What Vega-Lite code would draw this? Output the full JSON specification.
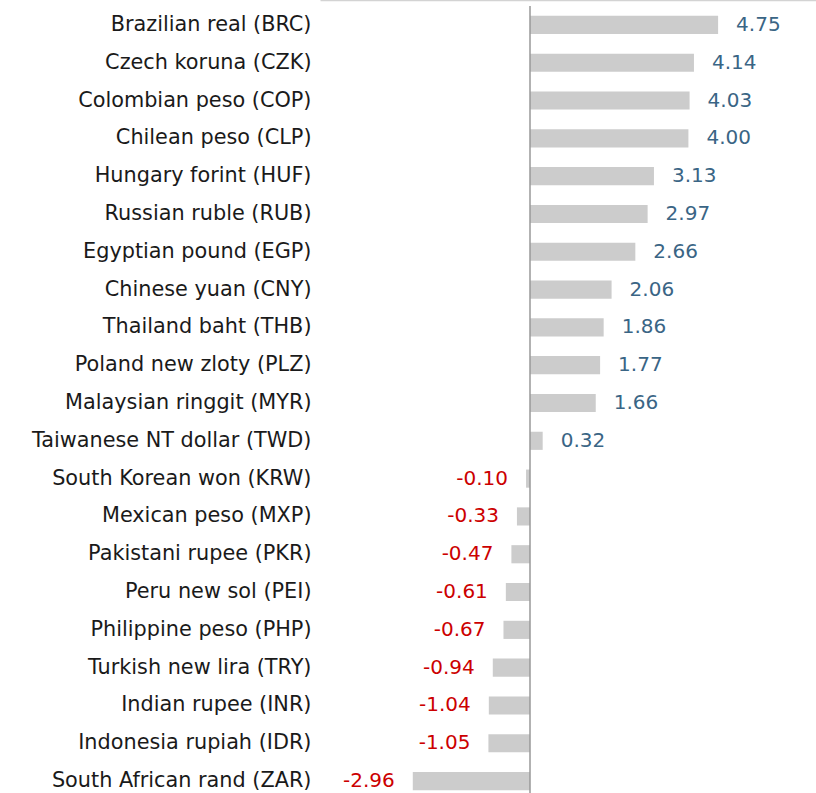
{
  "$schema": "https://vega.github.io/schema/vega-lite/v6.json",
  "autosize": {"type": "none"},
  "padding": {"left": 320, "top": 6, "right": 0, "bottom": 0},
  "width": 496,
  "height": 794,
  "background": "white",
  "config": {"view": {"stroke": null}, "font": "DejaVu Sans"},
  "data": {
    "values": [
      {"currency": "Brazilian real (BRC)", "value": 4.75},
      {"currency": "Czech koruna (CZK)", "value": 4.14},
      {"currency": "Colombian peso (COP)", "value": 4.03},
      {"currency": "Chilean peso (CLP)", "value": 4.00},
      {"currency": "Hungary forint (HUF)", "value": 3.13},
      {"currency": "Russian ruble (RUB)", "value": 2.97},
      {"currency": "Egyptian pound (EGP)", "value": 2.66},
      {"currency": "Chinese yuan (CNY)", "value": 2.06},
      {"currency": "Thailand baht (THB)", "value": 1.86},
      {"currency": "Poland new zloty (PLZ)", "value": 1.77},
      {"currency": "Malaysian ringgit (MYR)", "value": 1.66},
      {"currency": "Taiwanese NT dollar (TWD)", "value": 0.32},
      {"currency": "South Korean won (KRW)", "value": -0.10},
      {"currency": "Mexican peso (MXP)", "value": -0.33},
      {"currency": "Pakistani rupee (PKR)", "value": -0.47},
      {"currency": "Peru new sol (PEI)", "value": -0.61},
      {"currency": "Philippine peso (PHP)", "value": -0.67},
      {"currency": "Turkish new lira (TRY)", "value": -0.94},
      {"currency": "Indian rupee (INR)", "value": -1.04},
      {"currency": "Indonesia rupiah (IDR)", "value": -1.05},
      {"currency": "South African rand (ZAR)", "value": -2.96}
    ]
  },
  "transform": [
    {"calculate": "replace(format(datum.value, '.2f'), '\u2212', '-')", "as": "label"}
  ],
  "layer": [
    {
      "mark": {"type": "bar", "color": "#cccccc"},
      "encoding": {
        "y": {
          "field": "currency",
          "type": "nominal",
          "sort": null,
          "scale": {"paddingInner": 0.52, "paddingOuter": 0.26},
          "axis": {
            "title": null,
            "ticks": false,
            "domain": false,
            "labelPadding": 9,
            "labelFontSize": 20.8,
            "labelColor": "#1a1a1a",
            "labelFont": "DejaVu Sans",
            "labelLimit": 400
          }
        },
        "x": {
          "field": "value",
          "type": "quantitative",
          "scale": {"domain": [-5.303, 7.222], "nice": false, "zero": false},
          "axis": {
            "orient": "top",
            "title": null,
            "labels": false,
            "ticks": false,
            "grid": false,
            "domain": true,
            "domainColor": "#d3d3d3",
            "domainWidth": 1.5,
            "offset": 6
          }
        }
      }
    },
    {
      "data": {"values": [{"zero": 0}]},
      "mark": {"type": "rule", "color": "#999999", "strokeWidth": 1.5},
      "encoding": {"x": {"field": "zero", "type": "quantitative"}}
    },
    {
      "transform": [{"filter": "datum.value >= 0"}],
      "mark": {"type": "text", "fontSize": 20, "font": "DejaVu Sans", "baseline": "middle", "align": "left", "dx": 18, "color": "#3a6585"},
      "encoding": {
        "y": {"field": "currency", "type": "nominal", "sort": null},
        "x": {"field": "value", "type": "quantitative"},
        "text": {"field": "label"}
      }
    },
    {
      "transform": [{"filter": "datum.value < 0"}],
      "mark": {"type": "text", "fontSize": 20, "font": "DejaVu Sans", "baseline": "middle", "align": "right", "dx": -18, "color": "#cc0000"},
      "encoding": {
        "y": {"field": "currency", "type": "nominal", "sort": null},
        "x": {"field": "value", "type": "quantitative"},
        "text": {"field": "label"}
      }
    }
  ]
}
